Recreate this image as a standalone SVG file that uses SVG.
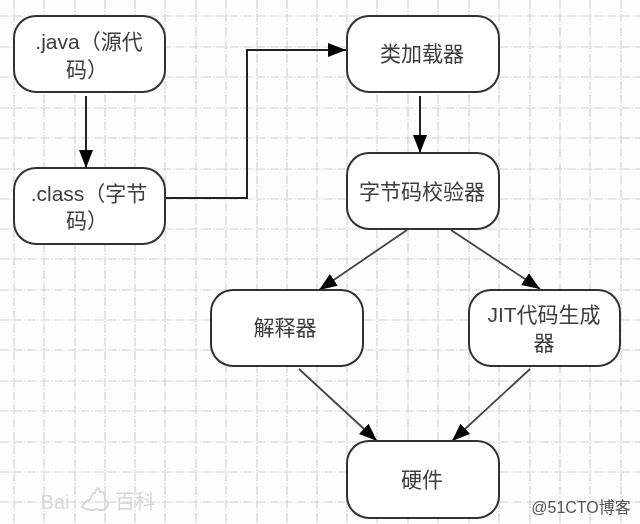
<svg xmlns="http://www.w3.org/2000/svg" width="640" height="524" viewBox="0 0 640 524">
<style>
text{font-family:"Liberation Sans","Noto Sans CJK SC",sans-serif;font-size:21px;fill:#3c3c3c;text-anchor:middle}
.grid line{stroke:#d4d4d4;stroke-width:1.2;stroke-dasharray:9 1.5 1.5 1.5}
.node rect{fill:#fff;stroke:#333;stroke-width:2}
.c{fill:none;stroke:#222;stroke-width:2}
.d{fill:none;stroke:#444;stroke-width:1.8}
.mark{fill:#d8d8d8;font-size:20px}
.tag{fill:#555;font-size:16px}
</style>
<defs>
<marker id="arrow" markerUnits="userSpaceOnUse" markerWidth="20" markerHeight="16" refX="18" refY="7" orient="auto">
<path d="M0 0L18 7L0 14Z" fill="#000"/>
</marker>
<filter id="soft" x="-5%" y="-5%" width="110%" height="110%"><feGaussianBlur stdDeviation="0.45"/></filter>
</defs>
<rect width="640" height="524" fill="#fdfdfd"/>
<g filter="url(#soft)">
<g class="grid">
<line x1="14" y1="0" x2="14" y2="524"/><line x1="44" y1="0" x2="44" y2="524"/><line x1="75" y1="0" x2="75" y2="524"/><line x1="105" y1="0" x2="105" y2="524"/><line x1="135" y1="0" x2="135" y2="524"/><line x1="165" y1="0" x2="165" y2="524"/><line x1="196" y1="0" x2="196" y2="524"/><line x1="226" y1="0" x2="226" y2="524"/><line x1="257" y1="0" x2="257" y2="524"/><line x1="287" y1="0" x2="287" y2="524"/><line x1="317" y1="0" x2="317" y2="524"/><line x1="347" y1="0" x2="347" y2="524"/><line x1="377" y1="0" x2="377" y2="524"/><line x1="408" y1="0" x2="408" y2="524"/><line x1="438" y1="0" x2="438" y2="524"/><line x1="469" y1="0" x2="469" y2="524"/><line x1="499" y1="0" x2="499" y2="524"/><line x1="530" y1="0" x2="530" y2="524"/><line x1="560" y1="0" x2="560" y2="524"/><line x1="590" y1="0" x2="590" y2="524"/><line x1="621" y1="0" x2="621" y2="524"/>
<line x1="0" y1="16" x2="640" y2="16"/><line x1="0" y1="47" x2="640" y2="47"/><line x1="0" y1="77" x2="640" y2="77"/><line x1="0" y1="108" x2="640" y2="108"/><line x1="0" y1="138" x2="640" y2="138"/><line x1="0" y1="169" x2="640" y2="169"/><line x1="0" y1="199" x2="640" y2="199"/><line x1="0" y1="229" x2="640" y2="229"/><line x1="0" y1="259" x2="640" y2="259"/><line x1="0" y1="290" x2="640" y2="290"/><line x1="0" y1="320" x2="640" y2="320"/><line x1="0" y1="350" x2="640" y2="350"/><line x1="0" y1="381" x2="640" y2="381"/><line x1="0" y1="411" x2="640" y2="411"/><line x1="0" y1="442" x2="640" y2="442"/><line x1="0" y1="472" x2="640" y2="472"/><line x1="0" y1="502" x2="640" y2="502"/>
</g>
<g id="watermark">
<text class="mark" x="55" y="509">Bai</text>
<path d="M82 507q4-8 8-7q2-8 5-7q3-9 5-1q5-2 5 8q5 3 2 7q-3 5-10 2q-8 3-15-2z" fill="none" stroke="#d8d8d8" stroke-width="2"/>
<text class="mark" x="135" y="509">百科</text>
</g>
<g id="connectors">
<path class="c" d="M86 96V168" marker-end="url(#arrow)"/>
<path class="c" d="M165 198H247V50H346" marker-end="url(#arrow)"/>
<path class="c" d="M420 96V153" marker-end="url(#arrow)"/>
<path class="d" d="M407 230L319 290" marker-end="url(#arrow)"/>
<path class="d" d="M451 230L540 289" marker-end="url(#arrow)"/>
<path class="d" d="M299 369L377 441" marker-end="url(#arrow)"/>
<path class="d" d="M530 369L452 441" marker-end="url(#arrow)"/>
</g>
<g id="java" class="node"><rect x="14" y="16" width="151" height="76" rx="22"/><text x="89" y="49">.java（源代</text><text x="87" y="77">码）</text></g>
<g id="class" class="node"><rect x="14" y="168" width="151" height="76" rx="22"/><text x="89" y="201">.class（字节</text><text x="87" y="228">码）</text></g>
<g id="loader" class="node"><rect x="347" y="16" width="152" height="76" rx="22"/><text x="422" y="61">类加载器</text></g>
<g id="verifier" class="node"><rect x="347" y="153" width="152" height="76" rx="22"/><text x="422" y="199">字节码校验器</text></g>
<g id="interpreter" class="node"><rect x="211" y="290" width="152" height="76" rx="22"/><text x="285" y="335">解释器</text></g>
<g id="jit" class="node"><rect x="469" y="290" width="151" height="76" rx="22"/><text x="544" y="322">JIT代码生成</text><text x="544" y="350">器</text></g>
<g id="hardware" class="node"><rect x="347" y="441" width="152" height="77" rx="22"/><text x="422" y="487">硬件</text></g>
<text class="tag" x="581" y="513">@51CTO博客</text>
</g>
</svg>
